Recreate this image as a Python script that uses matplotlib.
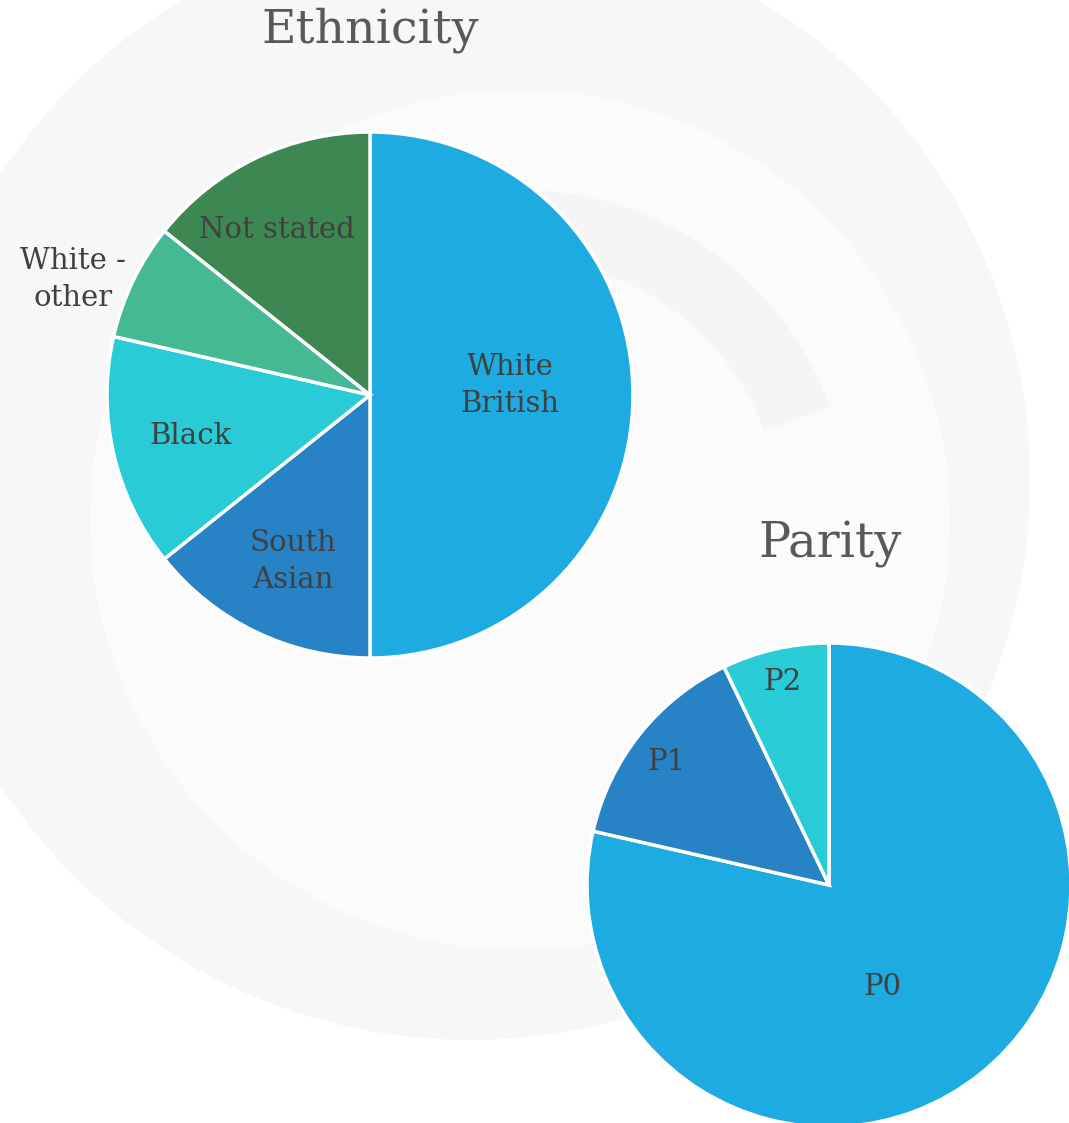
import numpy as np
import matplotlib
matplotlib.use("Agg")
import matplotlib.pyplot as plt
from matplotlib.patches import Wedge, Circle

# data (fractions, out of 14)
eth_labels = ["White\nBritish", "South\nAsian", "Black", "White -\nother", "Not stated"]
eth_values = [7, 2, 2, 1, 2]
eth_colors = ["#1eabe2", "#2882c6", "#29cbd6", "#44b994", "#3d8753"]

par_labels = ["P0", "P1", "P2"]
par_values = [11, 2, 1]
par_colors = ["#1eabe2", "#2882c6", "#29cbd6"]

plt.rcParams["font.family"] = ["DejaVu Serif"]
W, H = 1069, 1123
fig = plt.figure(figsize=(W / 100, H / 100), dpi=100)
fig.patch.set_facecolor("white")

# faint watermark-like background
bg = fig.add_axes([0, 0, 1, 1])
bg.set_xlim(0, W)
bg.set_ylim(H, 0)
bg.axis("off")
bg.add_patch(Circle((470, 480), 560, facecolor="#f7f7f7", edgecolor="none"))
bg.add_patch(Circle((520, 520), 430, facecolor="#fbfbfb", edgecolor="none"))
bg.add_patch(Wedge((520, 520), 330, 200, 340, width=70, facecolor="#f5f5f5", edgecolor="none"))


def pie_axes(cx, cy, r):
    ax = fig.add_axes([(cx - r) / W, (H - cy - r) / H, 2 * r / W, 2 * r / H])
    ax.set_xlim(-1, 1)
    ax.set_ylim(-1, 1)
    ax.axis("off")
    return ax


txt = dict(color="#404040", fontsize=21, linespacing=1.4)

# Ethnicity
ax1 = pie_axes(370, 395, 263)
w1, t1 = ax1.pie(eth_values, colors=eth_colors, startangle=90, counterclock=False,
                 radius=1, labels=eth_labels, labeldistance=0.7, frame=True,
                 wedgeprops=dict(edgecolor="white", linewidth=2.5),
                 textprops=dict(ha="center", va="center", **txt))
for t, scale in zip(t1, [0.76, 0.97, 1.0, 1.0, 1.03]):
    x, y = t.get_position()
    t.set_position((x * scale, y * scale))
    t.set_ha("center")
x, y = t1[0].get_position()
t1[0].set_position((x, y + 0.035))
x, y = t1[1].get_position()
t1[1].set_position((x, y - 0.02))
t1[3].set_position((-1.13, 0.44))
x, y = t1[4].get_position()
t1[4].set_position((x - 0.04, y - 0.023))
ax1.set_xlim(-1, 1)
ax1.set_ylim(-1, 1)
ax1.axis("off")
fig.text(370 / W, 1 - 30 / H, "Ethnicity", ha="center", va="center",
         fontsize=34, color="#595959")

# Parity
ax2 = pie_axes(829, 885, 242)
w2, t2 = ax2.pie(par_values, colors=par_colors, startangle=90, counterclock=False,
                 radius=1, labels=par_labels, labeldistance=0.86, frame=True,
                 wedgeprops=dict(edgecolor="white", linewidth=2.5),
                 textprops=dict(ha="center", va="center", **txt))
t2[0].set_position((0.22, -0.42))
x, y = t2[1].get_position()
t2[1].set_position((x, y - 0.03))
for t in t2:
    t.set_ha("center")
ax2.set_xlim(-1, 1)
ax2.set_ylim(-1, 1)
ax2.axis("off")
for w in w2:
    w.set_clip_on(False)
fig.text(830 / W, 1 - 545 / H, "Parity", ha="center", va="center",
         fontsize=34.5, color="#595959")

fig.savefig("out.png", dpi=100, facecolor=fig.get_facecolor())
